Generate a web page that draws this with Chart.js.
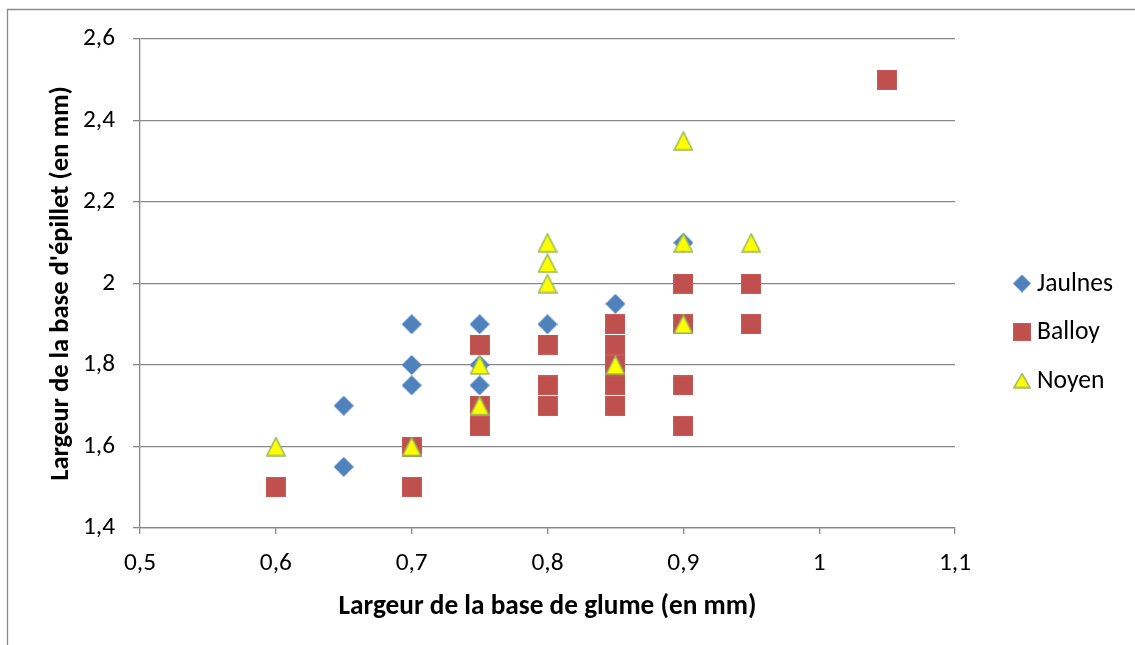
<!DOCTYPE html>
<html><head><meta charset="utf-8">
<script src="https://cdn.jsdelivr.net/npm/chart.js@4/dist/chart.umd.min.js"></script>
<style>html,body{margin:0;padding:0;background:#fff;overflow:hidden}canvas{display:block}</style>
</head><body>
<canvas id="c" width="1135" height="645"></canvas>
<script>
// ---- data ----
const seriesNames = ['Jaulnes', 'Balloy', 'Noyen'];
const jaulnesX = [0.65, 0.65, 0.7, 0.7, 0.7, 0.75, 0.75, 0.75, 0.8, 0.85, 0.9];
const jaulnesY = [1.7, 1.55, 1.9, 1.8, 1.75, 1.9, 1.8, 1.75, 1.9, 1.95, 2.1];
const balloyX = [0.6, 0.7, 0.7, 0.75, 0.75, 0.75, 0.8, 0.8, 0.8, 0.85, 0.85, 0.85, 0.85, 0.85, 0.9, 0.9, 0.9, 0.9, 0.95, 0.95, 1.05];
const balloyY = [1.5, 1.6, 1.5, 1.85, 1.7, 1.65, 1.85, 1.75, 1.7, 1.9, 1.85, 1.8, 1.75, 1.7, 2.0, 1.9, 1.75, 1.65, 2.0, 1.9, 2.5];
const noyenX = [0.6, 0.7, 0.75, 0.75, 0.8, 0.8, 0.8, 0.85, 0.9, 0.9, 0.9, 0.95];
const noyenY = [1.6, 1.6, 1.8, 1.7, 2.1, 2.05, 2.0, 1.8, 2.35, 2.1, 1.9, 2.1];
const xTickLabels = ['0,5', '0,6', '0,7', '0,8', '0,9', '1', '1,1'];
const yTickLabels = ['1,4', '1,6', '1,8', '2', '2,2', '2,4', '2,6'];
const xTitle = 'Largeur de la base de glume (en mm)';
const yTitle = "Largeur de la base d'épillet (en mm)";

// ---- styling helpers ----
const FAMILY = 'Carlito, Lato, "Noto Sans", sans-serif';
const GRID = '#878787';
const mctx = document.createElement('canvas').getContext('2d');
function fitSize(text, target, weight) {
  mctx.font = (weight || '') + ' 100px ' + FAMILY;
  return 100 * target / mctx.measureText(text).width;
}
const xTitleSize = fitSize(xTitle, 418, 'bold');
const yTitleSize = fitSize(yTitle, 395, 'bold');
const legendSize = fitSize('Jaulnes', 76, '');
const tickSize = fitSize('0,5', 32, '');

function marker(shape, w, h, fill, stroke) {
  const c = document.createElement('canvas');
  c.width = w; c.height = h;
  const g = c.getContext('2d');
  g.fillStyle = fill;
  g.beginPath();
  if (shape === 'diamond') {
    g.moveTo(w / 2, 0); g.lineTo(w, h / 2); g.lineTo(w / 2, h); g.lineTo(0, h / 2); g.closePath();
    g.fill();
  } else if (shape === 'square') {
    g.rect(0, 0, w, h); g.fill();
    g.strokeStyle = stroke; g.lineWidth = 1; g.strokeRect(0.5, 0.5, w - 1, h - 1);
  } else {
    g.moveTo(w / 2, 1.2); g.lineTo(w - 1, h - 1); g.lineTo(1, h - 1); g.closePath();
    g.fill();
    g.strokeStyle = stroke; g.lineWidth = 1.6; g.lineJoin = 'miter'; g.stroke();
  }
  return c;
}
const BLUE = '#4F81BD', RED = '#C0504D', YEL = '#FFFF00', GRN = '#9BBB59';
const mDiamond = marker('diamond', 20, 20, BLUE);
const mSquare = marker('square', 20, 20, RED, '#C65B58');
const mTri = marker('tri', 20, 20, YEL, GRN);
const lDiamond = marker('diamond', 18, 18, BLUE);
const lSquare = marker('square', 18, 18, RED, '#C65B58');
const lTri = marker('tri', 18, 16, YEL, GRN);
const legendMarkers = [lDiamond, lSquare, lTri];

function pts(xs, ys) { return xs.map((x, i) => ({ x: x, y: ys[i] })); }

const framePlugin = {
  id: 'frame',
  afterDraw(chart) {
    const ctx = chart.ctx;
    ctx.save();
    ctx.strokeStyle = '#8C8C8C';
    ctx.lineWidth = 1.3;
    ctx.beginPath();
    ctx.moveTo(7.5, 645); ctx.lineTo(7.5, 9.5); ctx.lineTo(1135, 9.5);
    ctx.stroke();
    // legend
    const area = chart.chartArea;
    const mx = area.right + 67, tx = area.right + 82;
    const y0 = (area.top + area.bottom) / 2;
    ctx.font = legendSize + 'px ' + FAMILY;
    ctx.fillStyle = '#000';
    ctx.textBaseline = 'middle';
    ctx.textAlign = 'left';
    chart.data.datasets.forEach((ds, i) => {
      const y = y0 + (i) * 48.5;
      const m = legendMarkers[i];
      ctx.drawImage(m, mx - m.width / 2, y - m.height / 2);
      ctx.fillText(ds.label, tx, y + 1);
    });
    ctx.restore();
  }
};

new Chart(document.getElementById('c'), {
  type: 'scatter',
  data: {
    datasets: [
      { label: seriesNames[0], data: pts(jaulnesX, jaulnesY), pointStyle: mDiamond, pointRadius: 10, pointHoverRadius: 10, order: 3 },
      { label: seriesNames[1], data: pts(balloyX, balloyY), pointStyle: mSquare, pointRadius: 10, pointHoverRadius: 10, order: 2 },
      { label: seriesNames[2], data: pts(noyenX, noyenY), pointStyle: mTri, pointRadius: 10, pointHoverRadius: 10, order: 1 }
    ]
  },
  options: {
    responsive: false,
    animation: false,
    events: [],
    layout: { padding: { top: 39, right: 180, left: 0, bottom: 0 } },
    plugins: { legend: { display: false }, tooltip: { enabled: false } },
    scales: {
      x: {
        type: 'linear', min: 0.5, max: 1.1,
        afterFit(s) { s.height = 645 - 528; },
        afterBuildTicks(s) { s.ticks = xTickLabels.map((t, i) => ({ value: 0.5 + i * 0.1 })); },
        ticks: { stepSize: 0.1, color: '#000', padding: 14, font: { family: FAMILY, size: tickSize, lineHeight: 1.2 },
          callback: (v, i) => xTickLabels[i] },
        grid: { drawOnChartArea: false, drawTicks: true, tickLength: 6, color: GRID, lineWidth: 1.3 },
        border: { display: true, color: GRID, width: 1.3 },
        title: { display: true, text: xTitle, color: '#000',
          font: { family: FAMILY, size: xTitleSize, weight: 'bold', lineHeight: 1.2 },
          padding: { top: 0, bottom: 38 - 0.6 * xTitleSize } }
      },
      y: {
        type: 'linear', min: 1.4, max: 2.6,
        afterFit(s) { s.width = 140; },
        afterBuildTicks(s) { s.ticks = yTickLabels.map((t, i) => ({ value: 1.4 + i * 0.2 })); },
        ticks: { stepSize: 0.2, color: '#000', padding: 18, font: { family: FAMILY, size: tickSize, lineHeight: 1.2 },
          callback: (v, i) => yTickLabels[i] },
        grid: { drawOnChartArea: true, drawTicks: true, tickLength: 7, color: GRID, lineWidth: 1.3 },
        border: { display: true, color: GRID, width: 1.3 },
        title: { display: true, text: yTitle, color: '#000',
          font: { family: FAMILY, size: yTitleSize, weight: 'bold', lineHeight: 1.2 },
          padding: { top: 61 - 0.6 * yTitleSize, bottom: 0 } }
      }
    }
  },
  plugins: [framePlugin]
});
</script>
</body></html>
